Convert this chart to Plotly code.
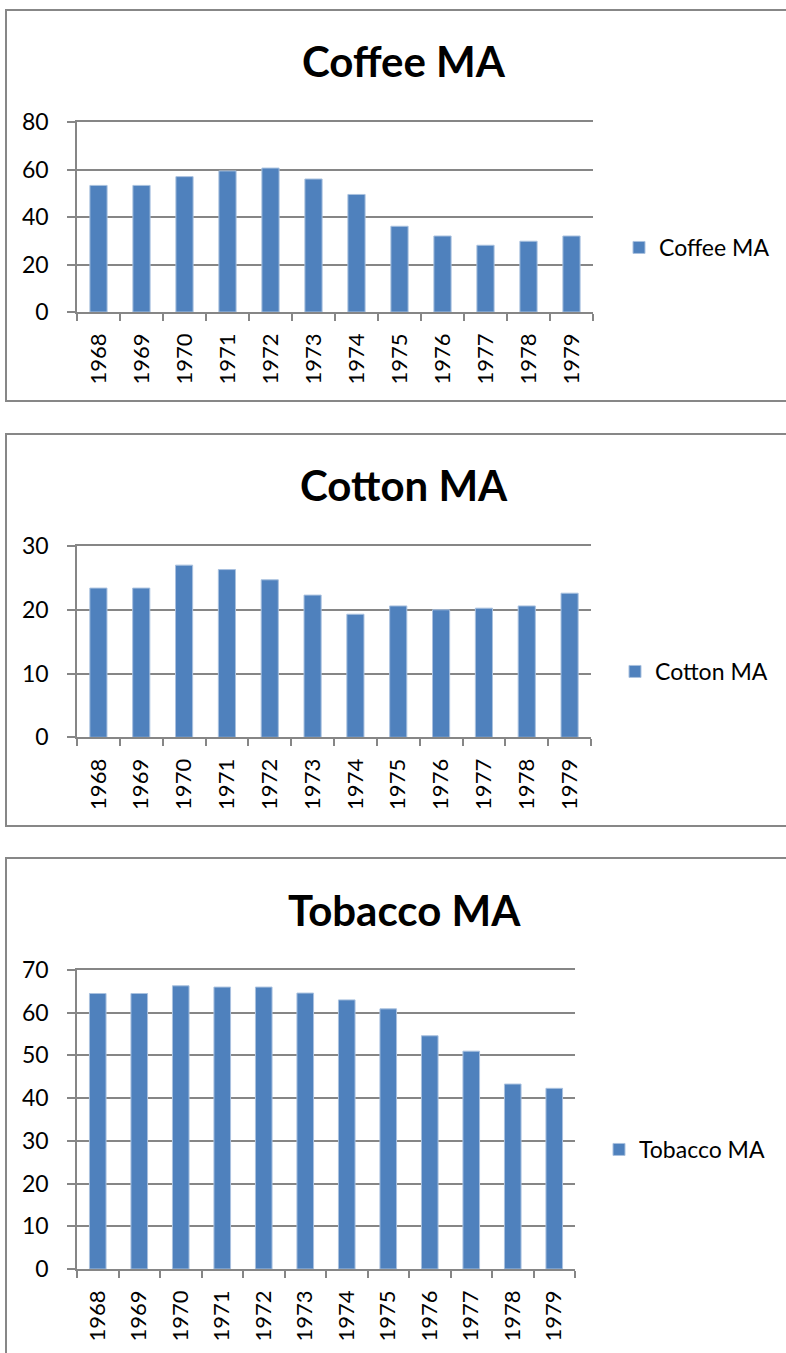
import plotly.graph_objects as go

years = ["1968", "1969", "1970", "1971", "1972", "1973", "1974", "1975", "1976", "1977", "1978", "1979"]
coffee_ma = [53.3, 53.3, 57.0, 59.4, 60.6, 56.0, 49.5, 36.1, 32.0, 28.1, 29.8, 32.0]
cotton_ma = [23.4, 23.4, 27.0, 26.3, 24.7, 22.3, 19.3, 20.6, 20.0, 20.25, 20.6, 22.6]
tobacco_ma = [64.5, 64.5, 66.3, 66.0, 66.0, 64.6, 63.0, 60.9, 54.6, 51.0, 43.3, 42.3]

titles = ["Coffee MA", "Cotton MA", "Tobacco MA"]
series = [coffee_ma, cotton_ma, tobacco_ma]
y_max = [80, 30, 70]
y_step = [20, 10, 10]

W, H = 786, 1353
BAR = "#4F81BD"
GRID = "#868686"
FONT = "Lato"

def px(x):
    return x / W

def py(y):
    return 1 - y / H

# pixel layout of each panel
plot_x = [(77, 593), (77, 591), (77, 575)]
plot_y = [(122, 312), (546, 737.3), (970, 1269)]
boxes = [(6, 10, 820, 401), (6, 434, 820, 826), (6, 858, 820, 1400)]
title_y = [61, 484.5, 909.5]
legend_pos = [(619, 247.5), (615, 671.5), (599, 1149.5)]

fig = go.Figure()
layout = dict(
    template="none",
    width=W, height=H,
    margin=dict(l=0, r=0, t=0, b=0, pad=0, autoexpand=False),
    paper_bgcolor="white", plot_bgcolor="white",
    bargap=0.6,
    font=dict(family=FONT, color="black"),
    shapes=[], annotations=[],
)

for i in range(3):
    n = "" if i == 0 else str(i + 1)
    xa, ya = "x" + n, "y" + n
    leg = "legend" + n
    fig.add_trace(go.Bar(
        x=years, y=series[i], name=titles[i],
        marker=dict(color=BAR, line=dict(width=1, color="#a9c1df")),
        xaxis=xa, yaxis=ya, legend=leg, showlegend=True,
    ))
    layout["xaxis" + n] = dict(
        domain=[px(plot_x[i][0]), px(plot_x[i][1])],
        anchor=ya, type="category", automargin=False,
        showline=True, mirror=True, linecolor=GRID, linewidth=1.5,
        ticks="outside", tickson="boundaries", ticklen=7, tickcolor=GRID, tickwidth=1.5,
        tickangle=-90, tickfont=dict(family=FONT, size=22, color="black"),
        showgrid=False, zeroline=False, ticklabelstandoff=11,
    )
    layout["yaxis" + n] = dict(
        domain=[py(plot_y[i][1]), py(plot_y[i][0])],
        anchor=xa, range=[0, y_max[i]], dtick=y_step[i], tick0=0, automargin=False,
        showline=True, linecolor=GRID, linewidth=1.5,
        ticks="outside", ticklen=8, tickcolor=GRID, tickwidth=1.5,
        showgrid=True, gridcolor=GRID, gridwidth=1.5, zeroline=False,
        tickfont=dict(family=FONT, size=23, color="black"),
        ticklabelstandoff=14,
    )
    layout[leg] = dict(
        x=px(legend_pos[i][0]), y=py(legend_pos[i][1]),
        xanchor="left", yanchor="middle",
        bgcolor="rgba(0,0,0,0)", borderwidth=0,
        font=dict(family=FONT, size=23, color="black"),
        itemwidth=30,
    )
    bx0, by0, bx1, by1 = boxes[i]
    layout["shapes"].append(dict(
        type="rect", xref="paper", yref="paper",
        x0=px(bx0), x1=px(bx1), y0=py(by1), y1=py(by0),
        line=dict(color="#878787", width=2), fillcolor="rgba(0,0,0,0)",
    ))
    layout["annotations"].append(dict(
        text="<b>%s</b>" % titles[i], xref="paper", yref="paper",
        x=px(404), y=py(title_y[i]), xanchor="center", yanchor="middle",
        showarrow=False, font=dict(family=FONT, size=42, color="black"),
    ))

fig.update_layout(**layout)
fig.write_html(
    "out.html",
    config={"displayModeBar": False},
    post_script="document.body.style.margin='0';document.body.style.overflow='hidden';",
)
